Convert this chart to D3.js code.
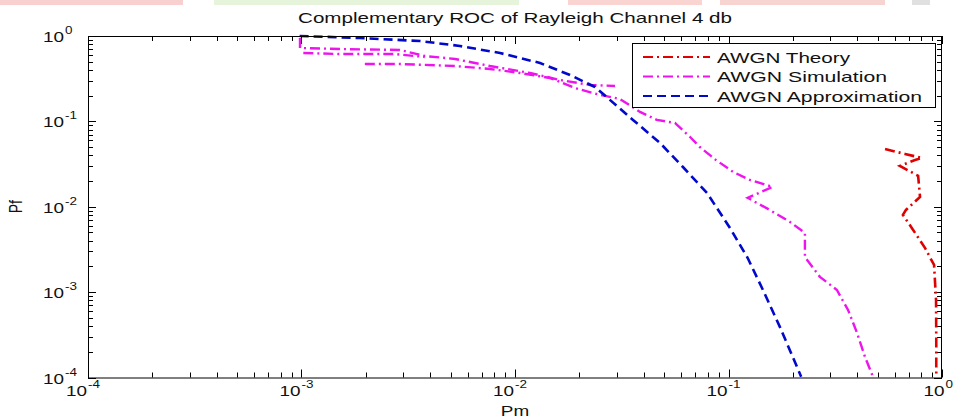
<!DOCTYPE html>
<html><head><meta charset="utf-8">
<script src="https://cdn.jsdelivr.net/npm/d3@7"></script>
<style>
body{margin:0;background:#fff;}
svg{display:block;}
text{font-family:Arial,"Liberation Sans",sans-serif;fill:#111;}
</style></head>
<body><svg id="c" width="957" height="419"></svg>
<script>
// ---- data ----
const titleText = "Complementary ROC of Rayleigh Channel 4 db";
const xLabel = "Pm";
const yLabel = "Pf";
const legendLabels = ["AWGN Theory", "AWGN Simulation", "AWGN Approximation"];
const tickExponents = [-4, -3, -2, -1, 0];

// AWGN Theory (red)
const theoryPm = [0.541, 0.671, 0.805, 0.748, 0.635, 0.773, 0.789, 0.678, 0.656, 0.722, 0.832, 0.918, 0.938, 0.940, 0.940];
const theoryPf = [0.0475, 0.0415, 0.0373, 0.0353, 0.0301, 0.0230, 0.0130, 0.00918, 0.00802, 0.00565, 0.0033, 0.00208, 0.0008, 0.000275, 0.0001];

// AWGN Simulation (magenta) – three traces
const simAPm = [0.000984, 0.000984, 0.00151, 0.00289, 0.00378, 0.00524, 0.00764, 0.01175, 0.01626, 0.0224, 0.0294];
const simAPf = [0.947, 0.723, 0.704, 0.686, 0.583, 0.538, 0.445, 0.369, 0.305, 0.267, 0.260];
const simBPm = [0.00102, 0.00151, 0.00274, 0.00378];
const simBPf = [0.632, 0.615, 0.615, 0.568];
const simCPm = [0.00198, 0.00289, 0.00524, 0.00764, 0.01054, 0.01459, 0.0191, 0.0250, 0.0310, 0.0385, 0.0462, 0.0561, 0.0661, 0.0734, 0.0873, 0.105, 0.126, 0.161, 0.123, 0.156, 0.194, 0.228, 0.228, 0.268, 0.322, 0.363, 0.400, 0.436, 0.475];
const simCPf = [0.470, 0.470, 0.445, 0.411, 0.369, 0.322, 0.246, 0.204, 0.183, 0.129, 0.104, 0.0958, 0.0656, 0.0501, 0.0353, 0.0256, 0.0206, 0.0171, 0.0127, 0.00918, 0.00664, 0.00493, 0.00258, 0.00151, 0.00106, 0.000619, 0.000333, 0.000174, 0.000102];

// AWGN Approximation (blue)
const approxPm = [0.00098, 0.00188, 0.00359, 0.00552, 0.00851, 0.0131, 0.0181, 0.0237, 0.0357, 0.0478, 0.0612, 0.0793, 0.1016, 0.123, 0.145, 0.174, 0.200, 0.219];
const approxPf = [1, 0.948, 0.873, 0.764, 0.632, 0.483, 0.349, 0.253, 0.104, 0.0558, 0.0292, 0.0145, 0.00565, 0.00251, 0.00106, 0.000392, 0.000174, 0.000102];

// ---- layout ----
const L = 88, R = 942, T = 36, B = 377.5;
const svg = d3.select("#c");

// faint watermark stripes at top
const stripes = [[0,183,"#f8d0d0"],[214,519,"#e6f4dc"],[568,702,"#f9d4d0"],[720,885,"#f8d4d0"],[912,930,"#e0e0e0"]];
stripes.forEach(s=>svg.append("rect").attr("x",s[0]).attr("y",0).attr("width",s[1]-s[0]).attr("height",5).attr("fill",s[2]));

const x = d3.scaleLog().domain([1e-4, 1]).range([L, R]);
const y = d3.scaleLog().domain([1e-4, 1]).range([B, T]);

const majors = tickExponents.map(e => Math.pow(10, e));
const minors = [];
for (let e = -4; e < 0; e++) for (let m = 2; m <= 9; m++) minors.push(m * Math.pow(10, e));

const g = svg.append("g");
function tick(x1,y1,x2,y2){g.append("line").attr("x1",x1).attr("y1",y1).attr("x2",x2).attr("y2",y2).attr("stroke","#000").attr("stroke-width",1);}
majors.forEach(v=>{const px=Math.round(x(v))+0.5, py=Math.round(y(v))+0.5;
  tick(px,B,px,B-8); tick(px,T,px,T+8); tick(L,py,L+8,py); tick(R,py,R-8,py);});
minors.forEach(v=>{const px=Math.round(x(v))+0.5, py=Math.round(y(v))+0.5;
  tick(px,B,px,B-5); tick(px,T,px,T+5); tick(L,py,L+5,py); tick(R,py,R-5,py);});

// curves
const line = d3.line().x(d=>x(d[0])).y(d=>y(d[1]));
const zip = (a,b)=>a.map((v,i)=>[v,b[i]]);
const plot = svg.append("g");
const series = [
  {pts: zip(theoryPm, theoryPf), color:"#e00000", dash:"10,4,2,4", w:2.6},
  {pts: zip(simAPm, simAPf), color:"#ee14ee", dash:"10,4,2,4", w:2.4},
  {pts: zip(simBPm, simBPf), color:"#ee14ee", dash:"10,4,2,4", w:2.4},
  {pts: zip(simCPm, simCPf), color:"#ee14ee", dash:"10,4,2,4", w:2.4},
  {pts: zip(approxPm, approxPf), color:"#0008cc", dash:"9,5", w:2.6}
];
series.forEach(s=>plot.append("path").attr("d",line(s.pts)).attr("fill","none")
  .attr("stroke",s.color).attr("stroke-width",s.w).attr("stroke-dasharray",s.dash));

// axes box
svg.append("rect").attr("x",L+0.5).attr("y",T+0.5).attr("width",R-L-1).attr("height",B-T).attr("fill","none").attr("stroke","#000").attr("stroke-width",1);

// tick labels
const sx = 1.35;
function label(px, py, exp, anchorRight){
  const base = anchorRight ? px : px + 4;
  svg.append("g").attr("transform",`translate(${base},${py}) scale(${sx},1)`)
    .append("text").attr("text-anchor","end").attr("font-size",14).text("10");
  svg.append("g").attr("transform",`translate(${base+1},${py-8}) scale(${sx},1)`)
    .append("text").attr("text-anchor","start").attr("font-size",10).text(String(exp));
}
tickExponents.forEach(e=>{
  const v = Math.pow(10,e);
  label(64, y(v)+6, e, true);
  const w = e<0 ? 14 : 7;
  label(x(v)-w/2+2, 396, e, false);
});

// axis titles
svg.append("g").attr("transform",`translate(${(L+R)/2},416) scale(${sx},1)`)
  .append("text").attr("text-anchor","middle").attr("font-size",14).text(xLabel);
svg.append("g").attr("transform",`translate(22,${(T+B)/2}) rotate(-90) scale(1,${sx})`)
  .append("text").attr("text-anchor","middle").attr("font-size",14).text(yLabel);

// title
svg.append("text").attr("x",(L+R)/2).attr("y",23).attr("text-anchor","middle")
  .attr("font-size",15).attr("textLength",434).attr("lengthAdjust","spacingAndGlyphs").text(titleText);

// legend
const lg = svg.append("g");
lg.append("rect").attr("x",632.5).attr("y",43.5).attr("width",303).attr("height",64).attr("fill","#fff").attr("stroke","#000").attr("stroke-width",1);
const legSeries = [series[0], series[1], series[4]];
const legW = [133, 170, 205];
legendLabels.forEach((t,i)=>{
  const ly = 57 + i*19.5;
  lg.append("line").attr("x1",643).attr("x2",710).attr("y1",ly).attr("y2",ly)
    .attr("stroke",legSeries[i].color).attr("stroke-width",2.2).attr("stroke-dasharray",legSeries[i].dash);
  lg.append("text").attr("x",717).attr("y",ly+5.5).attr("font-size",15)
    .attr("textLength",legW[i]).attr("lengthAdjust","spacingAndGlyphs").text(t);
});
</script></body></html>
